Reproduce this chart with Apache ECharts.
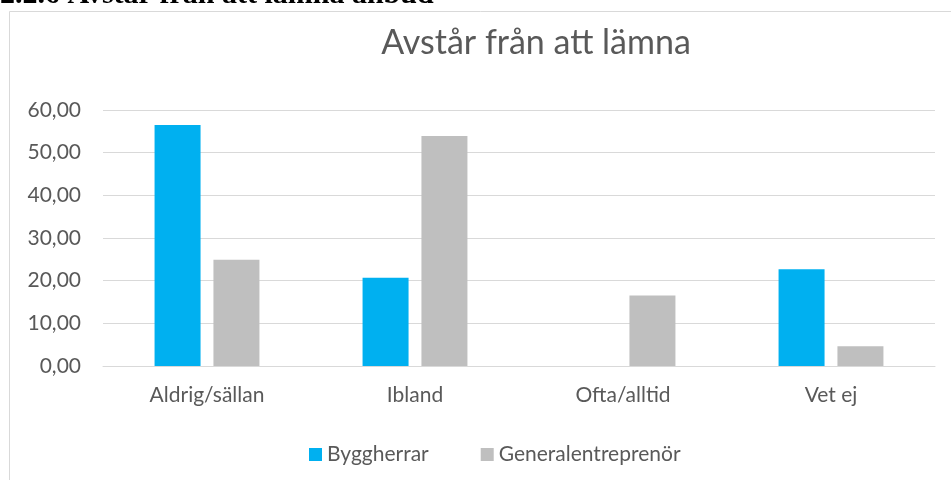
<!DOCTYPE html>
<html>
<head>
<meta charset="utf-8">
<script src="https://cdn.jsdelivr.net/npm/echarts@6/dist/echarts.min.js"></script>
<style>
  html, body { margin: 0; padding: 0; background: #fff; }
  #chart { width: 951px; height: 480px; }
</style>
</head>
<body>
<div id="chart"></div>
<script>
const categories = ['Aldrig/sällan', 'Ibland', 'Ofta/alltid', 'Vet ej']
const byggherrar = [56.5, 20.7, 0, 22.7]
const generalentreprenor = [24.9, 53.9, 16.5, 4.6]

const chart = echarts.init(document.getElementById('chart'))
const font = 'Lato, "Open Sans", sans-serif'

chart.setOption({
  animation: false,
  textStyle: { fontFamily: font },
  title: {
    text: 'Avstår från att lämna',
    left: 531,
    top: 21,
    textAlign: 'center',
    textStyle: { fontSize: 34, fontWeight: 'normal', color: '#595959', fontFamily: font }
  },
  graphic: [
    {
      type: 'rect',
      shape: { x: 9.5, y: 11.5, width: 960, height: 480 },
      style: { fill: 'none', stroke: '#d9d9d9', lineWidth: 1 }
    },
    {
      type: 'text',
      left: 0,
      top: -20,
      style: { text: '2.2.6 Avstår från att lämna anbud', font: 'bold 30px "Liberation Serif", serif', fill: '#000' }
    }
  ],
  legend: {
    left: 304,
    top: 439,
    itemWidth: 13,
    itemHeight: 13,
    itemGap: 52,
    icon: 'rect',
    textStyle: { fontSize: 21, color: '#595959', fontFamily: font },
    data: ['Byggherrar', 'Generalentreprenör']
  },
  grid: { left: 103, right: 16, top: 110, bottom: 114 },
  xAxis: {
    type: 'category',
    data: categories,
    axisTick: { show: false },
    axisLine: { lineStyle: { color: '#d9d9d9', width: 1 } },
    axisLabel: { fontSize: 21, color: '#595959', margin: 19, fontFamily: font }
  },
  yAxis: {
    type: 'value',
    min: 0,
    max: 60,
    interval: 10,
    axisLine: { show: false },
    axisTick: { show: false },
    splitLine: { lineStyle: { color: '#d9d9d9', width: 1 } },
    axisLabel: {
      fontSize: 21,
      color: '#595959',
      margin: 22,
      fontFamily: font,
      formatter: v => v.toFixed(2).replace('.', ',')
    }
  },
  series: [
    {
      name: 'Byggherrar',
      type: 'bar',
      data: byggherrar,
      barWidth: 46,
      barGap: '28%',
      itemStyle: { color: '#00b0f0' }
    },
    {
      name: 'Generalentreprenör',
      type: 'bar',
      data: generalentreprenor,
      barWidth: 46,
      barGap: '28%',
      itemStyle: { color: '#bfbfbf' }
    }
  ]
})
</script>
</body>
</html>
